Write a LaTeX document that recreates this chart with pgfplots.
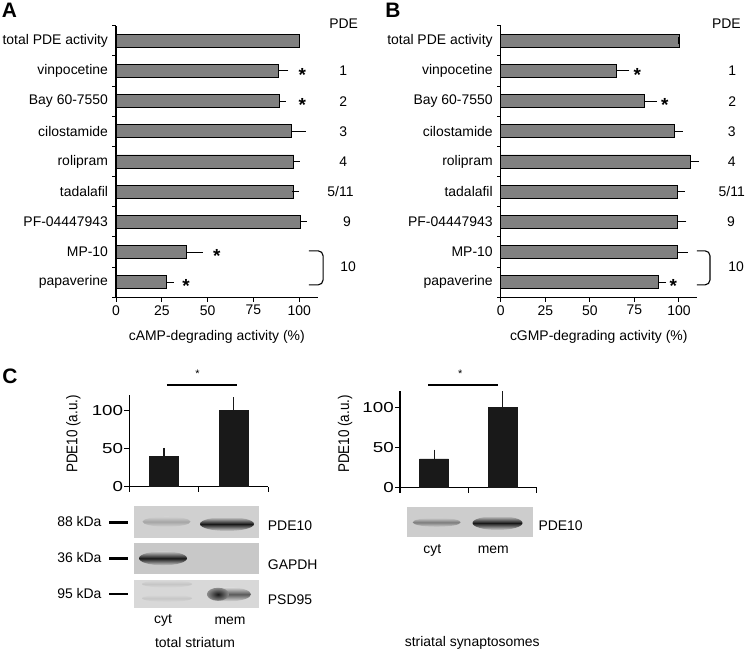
\documentclass[border=0pt]{standalone}
\usepackage{fontspec}
\setmainfont{Liberation Sans}
\newfontfamily\widefont[FakeStretch=1.3]{Liberation Sans}
\usepackage{graphicx}
\usepackage{pgfplots}
\usepackage{pgfplotstable}
\pgfplotsset{compat=1.18}
\definecolor{bargray}{RGB}{128,128,128}
\definecolor{barblack}{RGB}{25,25,25}
\definecolor{blotA}{RGB}{208,208,208}
\definecolor{blotB}{RGB}{200,200,200}
\definecolor{blotC}{RGB}{216,216,216}
\definecolor{blotD}{RGB}{205,205,205}
\definecolor{banddark}{RGB}{25,25,25}
\definecolor{bandmid}{RGB}{125,125,125}
\definecolor{bandpsd}{RGB}{90,90,90}
\definecolor{bandfaint}{RGB}{165,165,165}
\definecolor{bandvfaint}{RGB}{198,198,198}

\pgfplotstableread{
y x e
8 100 0
7 88.8 3.3
6 89 1.7
5 95.6 6
4 97 1.3
3 97 1
2 100.7 1.5
1 38.3 7
0 27.7 1.9
}\dataA

\pgfplotstableread{
y x e
8 100 0
7 65 5.2
6 80.4 5.4
5 97.6 2.5
4 106.2 3.2
3 99 2.3
2 99 3.2
1 99 4
0 88.3 2.5
}\dataB

\pgfplotstableread{
x y e
0.5 40.3 5
1.5 100 12
}\dataCa

\pgfplotstableread{
x y e
0.5 35.7 6.2
1.5 100 14.4
}\dataCb

\pgfplotsset{
  hbar/.style={
    scale only axis, clip=false,
    xmin=0, xmax=110, ymin=-0.5, ymax=8.5,
    axis lines=left, axis line style={-, line width=1.1bp, black},
    xtick={0,25,50,75,100},
    ytick={0,...,8},
    yticklabels={papaverine, MP-10, PF-04447943, tadalafil, rolipram, {cilostamide\hspace{4bp}}, Bay 60-7550, vinpocetine, total PDE activity},
    minor ytick={-0.5,0.5,...,8.5},
    tick align=outside,
    major tick length=4.5bp, minor tick length=3.5bp,
    tick style={line width=1bp, black},
    major y tick style={draw=none},
    /pgf/number format/assume math mode=true,
    xlabel style={yshift=-8bp},
    height=271.6bp,
  },
  hplot/.style={xbar, bar width=13bp, fill=bargray, draw=black, line width=0.8bp,
    error bars/.cd, x dir=plus, x explicit,
    error bar style={line width=1bp, black},
    error mark options={line width=1bp, black, mark size=3.5bp}},
  cbar/.style={
    scale only axis, clip=false,
    xmin=0, xmax=2, ymin=0, ymax=120,
    axis lines=left, axis line style={-, line width=1.1bp, black},
    xtick={0,1,2}, xticklabels={},
    ytick={0,50,100},
    tick align=outside, major tick length=5bp,
    tick style={line width=1.1bp, black},
    /pgf/number format/assume math mode=true,
    yticklabel style={font=\widefont\fontsize{14.5}{16}\selectfont, inner sep=1bp},
    ylabel={\scalebox{1}[1.15]{PDE10 (a.u.)}},
    ylabel style={font=\fontsize{13.5}{15}\selectfont, anchor=center},
  },
  cplot/.style={ybar, bar width=29bp, fill=barblack, draw=barblack,
    error bars/.cd, y dir=plus, y explicit,
    error bar style={line width=1.2bp, barblack},
    error mark options={line width=1.2bp, barblack, mark size=4.5bp}},
}

\begin{document}
\begin{tikzpicture}[font=\fontsize{14}{16}\selectfont,
  ast/.style={font=\bfseries\fontsize{19}{19}\selectfont, inner sep=0pt, yshift=-4bp},
  sast/.style={font=\fontsize{11}{11}\selectfont, inner sep=0pt}]
\useasboundingbox (0,0) rectangle (745bp,651bp);

% ---------------- Panel A ----------------
\begin{axis}[hbar, at={(116bp,353.7bp)}, anchor=south west, width=201.6bp,
  xlabel={cAMP-degrading activity (\%)}]
\addplot[hplot] table[x=x, y=y, x error=e] {\dataA};
\node[ast] at (axis cs:101.6,7) {*};
\node[ast] at (axis cs:101.6,6) {*};
\node[ast] at (axis cs:55,1) {*};
\node[ast] at (axis cs:38.2,0) {*};
\node at (axis cs:124.2,8.58) {PDE};
\node at (axis cs:124,7) {1};
\node at (axis cs:124,6) {2};
\node at (axis cs:124,5) {3};
\node at (axis cs:124,4) {4};
\node at (axis cs:122.5,3) {5/11};
\node at (axis cs:126,2) {9};
\node at (axis cs:126.7,0.5) {10};
\draw[line width=1.1bp, rounded corners=5bp] (axis cs:105.3,1.04) -- (axis cs:113,1.04) -- (axis cs:113,-0.09) -- (axis cs:105.3,-0.09);
\end{axis}

% ---------------- Panel B ----------------
\begin{axis}[hbar, at={(500.7bp,353.7bp)}, anchor=south west, width=196.1bp,
  xlabel={cGMP-degrading activity (\%)}]
\addplot[hplot] table[x=x, y=y, x error=e] {\dataB};
\node[ast] at (axis cs:76.6,7) {*};
\node[ast] at (axis cs:92.1,6) {*};
\node[ast] at (axis cs:96.8,0) {*};
\node[anchor=east] at (axis cs:136.6,8.58) {PDE};
\node at (axis cs:129.9,7) {1};
\node at (axis cs:129.9,6) {2};
\node at (axis cs:129.6,5) {3};
\node at (axis cs:129.6,4) {4};
\node at (axis cs:129.6,3) {5/11};
\node at (axis cs:129.2,2) {9};
\node at (axis cs:132,0.5) {10};
\draw[line width=1.1bp, rounded corners=5bp] (axis cs:110.1,1.04) -- (axis cs:117.4,1.04) -- (axis cs:117.4,-0.09) -- (axis cs:110.1,-0.09);
\end{axis}

% ---------------- Panel C left ----------------
\begin{axis}[cbar, at={(129.3bp,164.3bp)}, anchor=south west, width=139bp, height=91.2bp,
  ylabel style={at={(axis description cs:-0.403,0.578)}}]
\addplot[cplot] table[x=x, y=y, y error=e] {\dataCa};
\draw[line width=1.6bp] (axis cs:0.54,133.8) -- (axis cs:1.545,133.8);
\node[sast] at (axis cs:0.98,149) {*};
\end{axis}

% ---------------- Panel C right ----------------
\begin{axis}[cbar, at={(400bp,163.3bp)}, anchor=south west, width=136.7bp, height=96.5bp,
  ylabel style={at={(axis description cs:-0.402,0.556)}}]
\addplot[cplot] table[x=x, y=y, y error=e] {\dataCb};
\draw[line width=1.6bp] (axis cs:0.414,127.7) -- (axis cs:1.44,127.7);
\node[sast] at (axis cs:0.88,142) {*};
\end{axis}

% panel letters
\node[font=\bfseries\fontsize{21}{21}\selectfont] at (9.5bp,641bp) {A};
\node[font=\bfseries\fontsize{21}{21}\selectfont] at (393bp,641bp) {B};
\node[font=\bfseries\fontsize{21}{21}\selectfont] at (10bp,275bp) {C};

% ---------- blots, total striatum ----------
\fill[blotA] (134.3bp,113.3bp) rectangle (259bp,145.3bp);
\fill[blotB] (134.3bp,76.7bp) rectangle (259bp,107.7bp);
\fill[blotC] (134.3bp,43.3bp) rectangle (259bp,71bp);
\shade[top color=blotA, bottom color=blotA, middle color=bandfaint] (166.5bp,129.3bp) ellipse (24bp and 5bp);
\shade[top color=blotA, bottom color=blotA, middle color=banddark] (227bp,127bp) ellipse (27bp and 7bp);
\shade[top color=blotB, bottom color=blotB, middle color=banddark] (163bp,92.7bp) ellipse (24bp and 7bp);
\shade[top color=blotC, bottom color=blotC, middle color=bandvfaint] (167bp,67bp) ellipse (25bp and 3.5bp);
\shade[top color=blotC, bottom color=blotC, middle color=bandvfaint] (167bp,52.7bp) ellipse (25bp and 3.5bp);
\shade[top color=blotC, bottom color=blotC, middle color=bandpsd] (229bp,56.7bp) ellipse (22bp and 7bp);
\shade[inner color=banddark, outer color=bandpsd!60!blotC] (218bp,56.7bp) ellipse (11bp and 6.5bp);
\draw[line width=2.5bp] (109bp,128.7bp) -- (128.3bp,128.7bp);
\draw[line width=2.5bp] (109bp,92.7bp) -- (128.3bp,92.7bp);
\draw[line width=2.5bp] (109bp,57bp) -- (128.3bp,57bp);
\node[anchor=east, inner sep=0pt] at (101.7bp,129.3bp) {88 kDa};
\node[anchor=east, inner sep=0pt] at (101.7bp,93.3bp) {36 kDa};
\node[anchor=east, inner sep=0pt] at (101.7bp,57.6bp) {95 kDa};
\node[anchor=west, inner sep=0pt] at (267.7bp,125.3bp) {PDE10};
\node[anchor=west, inner sep=0pt] at (267.7bp,86bp) {GAPDH};
\node[anchor=west, inner sep=0pt] at (267.7bp,51.7bp) {PSD95};
\node at (163bp,30.3bp) {cyt};
\node at (230bp,30.3bp) {mem};
\node at (195bp,8bp) {total striatum};

% ---------- blot, synaptosomes ----------
\fill[blotD] (406.7bp,113.7bp) rectangle (532.7bp,144.3bp);
\shade[top color=blotD, bottom color=blotD, middle color=bandmid] (436.7bp,128.7bp) ellipse (24bp and 4.5bp);
\shade[top color=blotD, bottom color=blotD, middle color=banddark] (497.5bp,128bp) ellipse (25bp and 7bp);
\node[anchor=west, inner sep=0pt] at (538.3bp,125.3bp) {PDE10};
\node at (432.3bp,101bp) {cyt};
\node at (493.3bp,101bp) {mem};
\node at (472.3bp,8bp) {striatal synaptosomes};
\end{tikzpicture}
\end{document}
